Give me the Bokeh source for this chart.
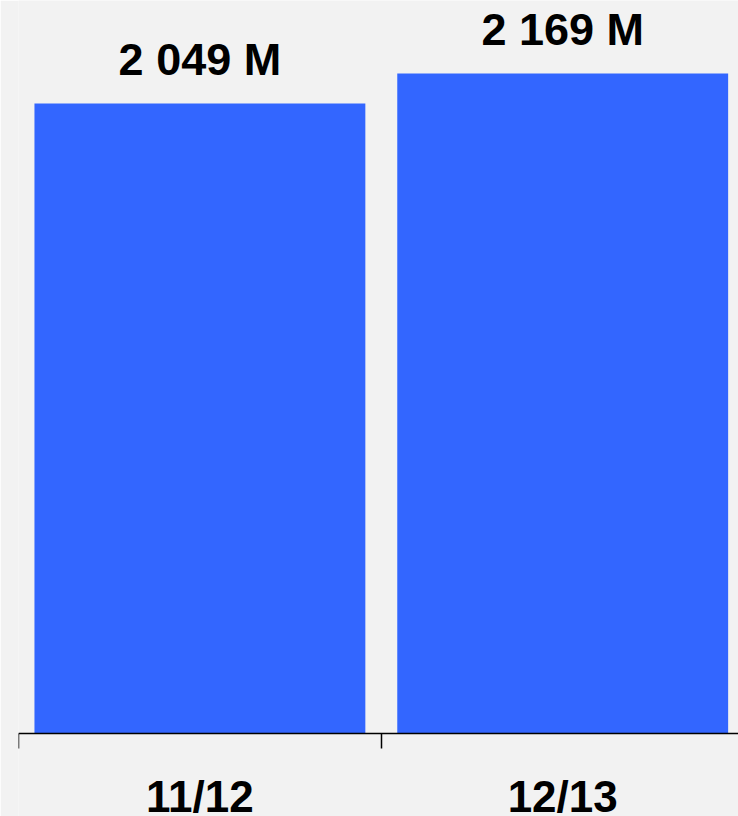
from bokeh.plotting import figure
from bokeh.models import ColumnDataSource, Range1d, FixedTicker, LinearAxis
from bokeh.core.properties import value
from bokeh.embed import file_html
from bokeh.resources import INLINE
import numpy as np

categories = ["11/12", "12/13"]
values = [2049, 2169]
value_labels = ["2 049 M", "2 169 M"]

FONT = "Liberation Sans"
BG = "#f2f2f2"
BAR = "#3366ff"

x = np.arange(len(categories)) + 0.5
y_base = -471          # value axis origin of the bars
y_start, y_end = -803, 2461

p = figure(width=738, height=816, output_backend="svg", toolbar_location=None,
           x_range=Range1d(0, 720 / 362.8), y_range=Range1d(y_start, y_end),
           x_axis_location=None, y_axis_location=None,
           min_border_left=18, min_border_right=0, min_border_top=0, min_border_bottom=0)
p.background_fill_color = BG
p.border_fill_color = BG
p.outline_line_color = None
p.grid.visible = False

src = ColumnDataSource(dict(x=x, top=values, label=value_labels))
p.vbar(x="x", top="top", bottom=y_base, width=0.912, source=src,
       fill_color=BAR, line_color=None)
p.text(x="x", y="top", text="label", source=src, text_align="center",
       text_baseline="alphabetic", y_offset=-44, text_font=value(FONT),
       text_font_style="bold", text_font_size="45px", text_color="black")

axis = LinearAxis(ticker=FixedTicker(ticks=list(map(float, x)),
                                     minor_ticks=list(map(float, np.arange(len(categories) + 1)))),
                  major_label_overrides={float(xi): c for xi, c in zip(x, categories)},
                  fixed_location=y_base)
axis.major_tick_out = 0
axis.major_tick_in = 0
axis.minor_tick_out = 15
axis.minor_tick_in = 0
axis.axis_line_color = "black"
axis.axis_line_width = 1.5
axis.minor_tick_line_color = "black"
axis.minor_tick_line_width = 1.5
axis.major_label_text_font = FONT
axis.major_label_text_font_style = "bold"
axis.major_label_text_font_size = "44px"
axis.major_label_text_color = "black"
axis.major_label_standoff = 23
p.add_layout(axis, "below")

open("out.html", "w").write(file_html(p, INLINE))
